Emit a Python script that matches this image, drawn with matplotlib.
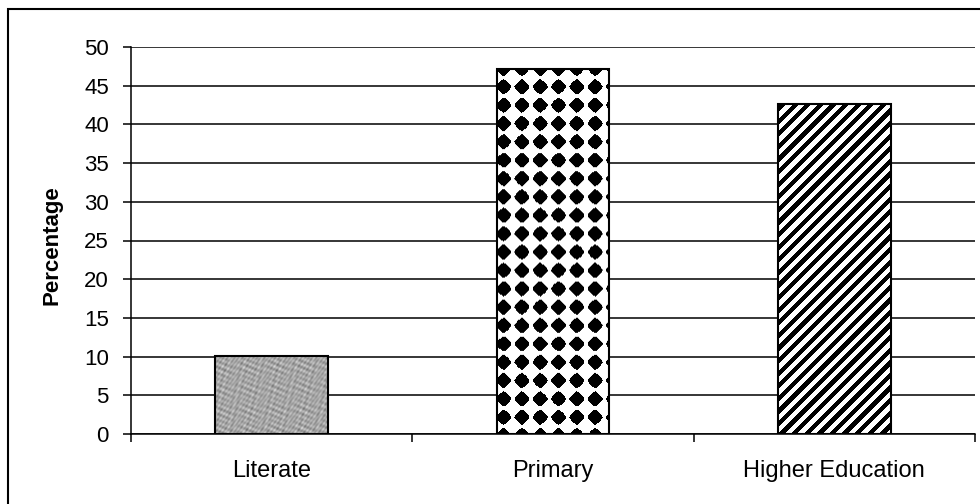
import numpy as np
import matplotlib
matplotlib.use("Agg")
import matplotlib.pyplot as plt
from matplotlib.patches import Rectangle

# --- dados ---
categories = ["Literate", "Primary", "Higher Education"]
percentages = [10.1, 47.2, 42.6]
y_ticks = list(range(0, 51, 5))
y_label = "Percentage"

plt.rcParams["font.family"] = ["Liberation Sans", "DejaVu Sans"]
plt.rcParams["font.size"] = 16


# --- texturas das barras (só estilo) ---
def textura_granito(nx, ny):
    ii, jj = np.meshgrid(np.arange(nx), np.arange(ny))
    v = (0.65 + 0.06 * np.sin(ii * 0.9 + jj * 0.4) * np.cos(jj * 0.7 - ii * 0.3)
         + 0.05 * np.sin(ii * 1.7 - jj * 1.3) + 0.05 * np.cos(ii * 0.37 + jj * 1.1)
         + 0.05 * np.sin(ii * 0.23 - jj * 0.51) * np.sin(jj * 0.29 + ii * 0.61))
    return v


def textura_losangos(nx, ny, s=18.3, limiar=0.08):
    # xadrez girado 45 graus: losangos pretos e brancos
    ii, jj = np.meshgrid(np.arange(nx) + 3.0, np.arange(ny) + 2.0)
    u = (ii + jj) / s
    v = (ii - jj) / s
    f = np.sin(np.pi * u) * np.sin(np.pi * v)
    return (f < limiar).astype(float)


def textura_listras(nx, ny, periodo=12.6):
    ii, jj = np.meshgrid(np.arange(nx), np.arange(ny))
    return (((ii - jj) % periodo) >= periodo * 0.5).astype(float)


texturas = [textura_granito, textura_losangos, textura_listras]

fig = plt.figure(figsize=(9.8, 5.04), dpi=100)
ax = fig.add_axes([131 / 980, 1 - 434 / 504, 844 / 980, 387 / 504])

x = np.arange(len(categories))
largura = 0.4
ax.set_xlim(-0.5, len(categories) - 0.5)
ax.set_ylim(0, 50)

bars = ax.bar(x, percentages, width=largura, facecolor="none",
              edgecolor="black", linewidth=1.5, zorder=3)

for bar, tex in zip(bars, texturas):
    x0, y0 = bar.get_x(), bar.get_y()
    x1, y1 = x0 + bar.get_width(), y0 + bar.get_height()
    p0 = ax.transData.transform((x0, y0))
    p1 = ax.transData.transform((x1, y1))
    nx = max(int(round(p1[0] - p0[0])), 1)
    ny = max(int(round(p1[1] - p0[1])), 1)
    ax.imshow(tex(nx, ny), cmap="gray", vmin=0, vmax=1, origin="lower",
              extent=(x0, x1, y0, y1), aspect="auto", interpolation="antialiased",
              zorder=2.5)

ax.set_xlim(-0.5, len(categories) - 0.5)
ax.set_ylim(0, 50)

# eixo y
ax.set_yticks(y_ticks)
ax.yaxis.grid(True, color="black", linewidth=1.1)
ax.set_axisbelow(True)
ax.tick_params(axis="y", direction="out", length=6, width=1.1, pad=10)
ax.set_ylabel(y_label, fontweight="bold", fontsize=16)
ax.yaxis.set_label_coords(-0.0806, 0.488)

# eixo x: rótulos no centro, marcas nas divisas
ax.set_xticks(x)
ax.set_xticklabels(categories, fontsize=17)
ax.set_xticks(np.arange(len(categories) + 1) - 0.5, minor=True)
ax.tick_params(axis="x", which="major", length=0, pad=19)
ax.tick_params(axis="x", which="minor", direction="out", length=6, width=1.1)

for lado in ["top", "right"]:
    ax.spines[lado].set_visible(False)
for lado in ["left", "bottom"]:
    ax.spines[lado].set_linewidth(1.1)
    ax.spines[lado].set_color("black")

# moldura externa
fig.add_artist(Rectangle((8 / 980, -0.05), 1.2, 1 - 9 / 504 + 0.05,
                         transform=fig.transFigure, fill=False,
                         edgecolor="black", linewidth=1.5, clip_on=False))

fig.savefig("out.png", dpi=100)
